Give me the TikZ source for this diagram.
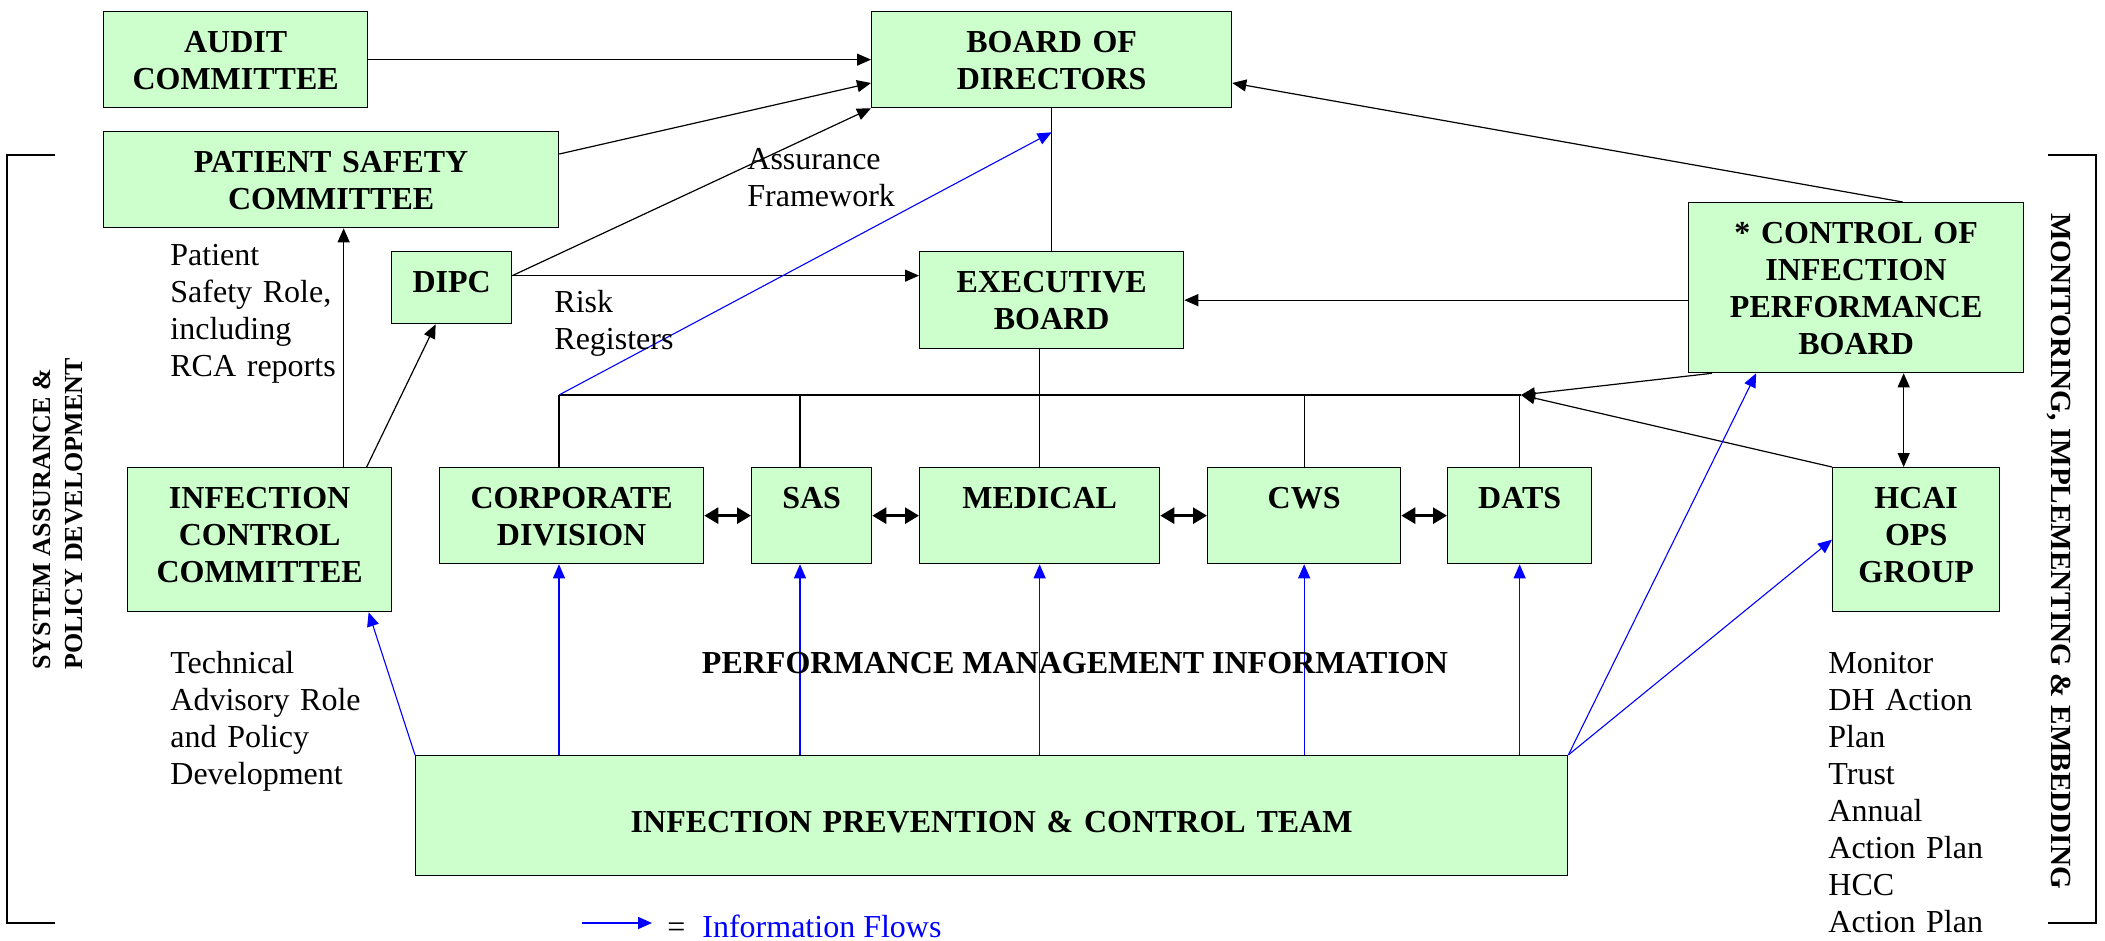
\documentclass[tikz,border=0pt]{standalone}
\usepackage{fontspec}
\setmainfont{Liberation Serif}
\usetikzlibrary{arrows.meta}
\definecolor{boxgreen}{HTML}{CCFFCC}
\definecolor{infoblue}{RGB}{0,0,255}
\tikzset{
  box/.style={draw=black, line width=0.65pt, fill=boxgreen, inner sep=0pt, align=center,
    font=\bfseries\fontsize{16}{18.5}\selectfont, text height=20.5pt, anchor=north west},
  txt/.style={inner sep=0pt, align=left, text width=120pt, anchor=base west,
    font=\fontsize{16}{18.5}\selectfont},
  conn/.style={draw=black, line width=0.6pt},
  arr/.style={conn, -{Triangle[length=7pt,width=6pt]}},
  dblarr/.style={conn, {Triangle[length=7pt,width=6pt]}-{Triangle[length=7pt,width=6pt]}},
  thickdbl/.style={draw=black, line width=1.4pt, {Triangle[length=7pt,width=8pt]}-{Triangle[length=7pt,width=8pt]}},
  info/.style={draw=infoblue, line width=0.55pt, -{Triangle[length=7pt,width=6pt]}},
}
\begin{document}
\begin{tikzpicture}[x=0.5pt,y=-0.5pt]
\fill[white] (0,0) rectangle (2105,941);
\path[use as bounding box] (0,0) rectangle (2105,941);

% boxes
\node[box, text width=132pt, text depth=27.5pt] (audit) at (103,11) {AUDIT\\COMMITTEE};
\node[box, text width=180pt, text depth=27.5pt] (board) at (871,11) {BOARD OF\\DIRECTORS};
\node[box, text width=227.5pt, text depth=27.5pt] (psc) at (103,131) {PATIENT SAFETY\\COMMITTEE};
\node[box, text width=60pt, text depth=15.5pt] (dipc) at (391,251) {DIPC};
\node[box, text width=132pt, text depth=28pt] (exec) at (919,251) {EXECUTIVE\\BOARD};
\node[box, text width=167.5pt, text depth=64.5pt] (cipb) at (1688,202) {* CONTROL OF\\INFECTION\\PERFORMANCE\\BOARD};
\node[box, text width=132pt, text depth=51.5pt] (icc) at (127,467) {INFECTION\\CONTROL\\COMMITTEE};
\node[box, text width=132pt, text depth=27.5pt] (corp) at (439,467) {CORPORATE\\DIVISION};
\node[box, text width=60pt, text depth=27.5pt] (sas) at (751,467) {SAS};
\node[box, text width=120pt, text depth=27.5pt] (med) at (919,467) {MEDICAL};
\node[box, text width=96.5pt, text depth=27.5pt] (cws) at (1207,467) {CWS};
\node[box, text width=72pt, text depth=27.5pt] (dats) at (1447,467) {DATS};
\node[box, text width=83.5pt, text depth=51.5pt] (hcai) at (1832,467) {HCAI\\OPS\\GROUP};
\node[box, text width=576pt, text height=38.5pt, text depth=21.5pt] (ipct) at (415,755) {INFECTION PREVENTION \& CONTROL TEAM};

% bus coordinates
\coordinate (b1) at (559,395);
\coordinate (b2) at (800,395);
\coordinate (busR) at (1521,395);

% black connectors
\draw[arr] (audit) -- (board);
\draw[arr] ([yshift=-11.5pt]psc.north east) -- ([yshift=-36pt]board.north west);
\draw[arr] ([yshift=6pt]dipc.east) -- (board.south west);
\draw[arr] ([yshift=6pt]dipc.east) -- ([yshift=6pt]dipc.east -| exec.west);
\draw[conn] (board.south) -- (exec.north);
\draw[arr] (exec.east -| cipb.west) -- (exec.east);
\draw[arr] ([xshift=23.25pt]cipb.north) -- ([yshift=-36pt]board.north east);
\draw[arr] ([xshift=12pt]cipb.south west) -- (busR);
\draw[arr] (hcai.north west) -- (busR);
\draw[dblarr] ([xshift=23.75pt]cipb.south) -- ([xshift=23.75pt]cipb.south |- hcai.north);
\draw[arr] ([xshift=42pt]icc.north) -- ([xshift=42pt]icc.north |- psc.south);
\draw[arr] ([xshift=53.5pt]icc.north) -- ([xshift=-8pt]dipc.south);

% bus
\draw[conn] (b1) -- (busR);
\draw[conn] (b1) -- (b1 |- corp.north);
\draw[conn] (b2) -- (b2 |- sas.north);
\draw[conn] (med.north) -- (med.north |- exec.south);
\draw[conn] (cws.north) -- (cws.north |- b1);
\draw[conn] (dats.north) -- (dats.north |- b1);

% double arrows between divisions
\draw[thickdbl] (corp) -- (sas);
\draw[thickdbl] (sas) -- (med);
\draw[thickdbl] (med) -- (cws);
\draw[thickdbl] (cws) -- (dats);

% information flows
\draw[info] (b1) -- ([yshift=-12pt]board.south);
\draw[info] (b1 |- ipct.north) -- (b1 |- corp.south);
\draw[info] (b2 |- ipct.north) -- (b2 |- sas.south);
\draw[info] (med.south |- ipct.north) -- (med.south);
\draw[info] (cws.south |- ipct.north) -- (cws.south);
\draw[info] (dats.south |- ipct.north) -- (dats.south);
\draw[info] (ipct.north west) -- ([xshift=54.5pt]icc.south);
\draw[info] (ipct.north east) -- ([xshift=-50pt]cipb.south);
\draw[info] (ipct.north east) -- (hcai.west);

% labels
\node[txt] (pstxt) at (170,266) {Patient\\Safety Role,\\including\\RCA reports};
\node[txt] (aftxt) at (747,170) {Assurance\\Framework};
\node[txt] (rrtxt) at (554,313) {Risk\\Registers};
\node[txt] (tatxt) at (170,673) {Technical\\Advisory Role\\and Policy\\Development};
\node[txt] (mntxt) at (1828,673) {Monitor\\DH Action\\Plan\\Trust\\Annual\\Action Plan\\HCC\\Action Plan};
\node[inner sep=0pt, anchor=base, font=\bfseries\fontsize{16}{18.5}\selectfont] (pmi) at (1075,673) {PERFORMANCE MANAGEMENT INFORMATION};

% side brackets and titles
\draw[black, line width=0.8pt] (55,155) -- (7,155) -- (7,923) -- (55,923);
\draw[black, line width=0.8pt] (2048,155) -- (2096,155) -- (2096,923) -- (2048,923);
\node[rotate=90, anchor=west, align=left, inner sep=0pt, font=\bfseries\fontsize{13}{16}\selectfont] (sapd) at (58,670) {SYSTEM ASSURANCE \&\\POLICY DEVELOPMENT};
\node[rotate=-90, inner sep=0pt, font=\bfseries\fontsize{14.6}{17}\selectfont] (mie) at (2059,551) {MONITORING, IMPLEMENTING \& EMBEDDING};

% legend
\coordinate (lg1) at (582,923);
\coordinate (lg2) at (652,923);
\draw[info, line width=0.8pt] (lg1) -- (lg2);
\node[inner sep=0pt, anchor=base west, font=\fontsize{16}{18.5}\selectfont] (eq) at (667,937) {=};
\node[inner sep=0pt, anchor=base west, text=infoblue, font=\fontsize{16}{18.5}\selectfont] (lgtxt) at (702,937) {Information Flows};
\end{tikzpicture}
\end{document}
